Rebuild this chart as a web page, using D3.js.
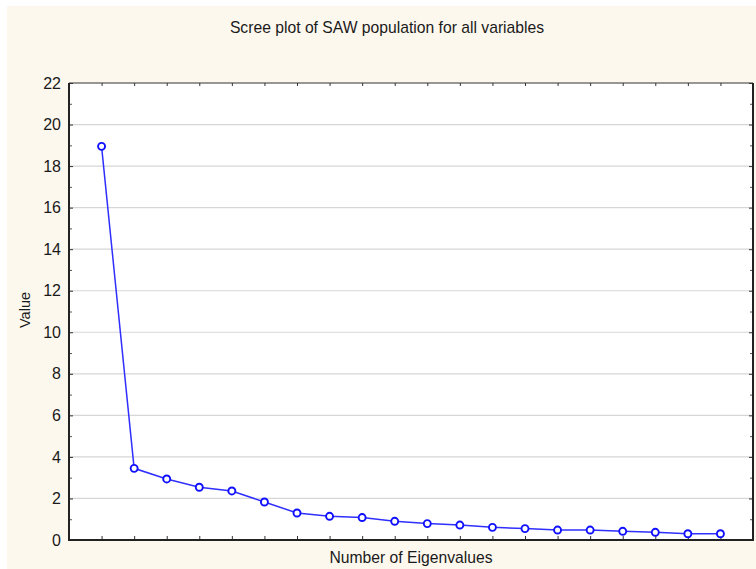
<!DOCTYPE html>
<html>
<head>
<meta charset="utf-8">
<script src="https://cdn.jsdelivr.net/npm/d3@7"></script>
<style>
  html, body { margin: 0; padding: 0; background: #ffffff; }
  svg { display: block; }
  text { font-family: "Liberation Sans", Arial, sans-serif; fill: #1a1a1a; }
</style>
</head>
<body>
<svg id="chart" width="756" height="569"></svg>
<script>
// Eigenvalue index (1..20) and the eigenvalue of each component
const eigenNumbers = [1, 2, 3, 4, 5, 6, 7, 8, 9, 10, 11, 12, 13, 14, 15, 16, 17, 18, 19, 20];
const eigenvalues = [18.95, 3.45, 2.94, 2.54, 2.36, 1.83, 1.30, 1.14, 1.08, 0.90,
                     0.79, 0.72, 0.61, 0.55, 0.48, 0.48, 0.42, 0.37, 0.30, 0.30];
const yMajorTicks = [0, 2, 4, 6, 8, 10, 12, 14, 16, 18, 20, 22];
const yMinorTicks = [1, 3, 5, 7, 9, 11, 13, 15, 17, 19, 21];

const titleText = "Scree plot of SAW population for all variables";
const xLabel = "Number of Eigenvalues";
const yLabel = "Value";

const svg = d3.select("#chart");
const W = 756, H = 569;
const plot = { left: 69, right: 753, top: 83, bottom: 540 };

// cream panel
svg.append("rect").attr("x", 7).attr("y", 6).attr("width", W - 7).attr("height", H - 6)
  .attr("fill", "#fdf8ee");

// plot area
svg.append("rect").attr("x", plot.left).attr("y", plot.top)
  .attr("width", plot.right - plot.left).attr("height", plot.bottom - plot.top)
  .attr("fill", "#ffffff");

const x = d3.scaleLinear().domain([0, 21]).range([plot.left, plot.right]);
const y = d3.scaleLinear().domain([0, 22]).range([plot.bottom, plot.top]);

// horizontal grid
svg.append("g").selectAll("line").data(yMajorTicks.filter(v => v > 0 && v < 22)).join("line")
  .attr("x1", plot.left).attr("x2", plot.right)
  .attr("y1", d => y(d)).attr("y2", d => y(d))
  .attr("stroke", "#d6d6d6").attr("stroke-width", 1.2);

// left axis with labels, inward ticks
const leftAxis = svg.append("g").attr("transform", `translate(${plot.left},0)`)
  .call(d3.axisLeft(y).tickValues(yMajorTicks).tickSize(-4).tickPadding(8).tickFormat(d3.format("d")));
leftAxis.select(".domain").remove();
leftAxis.selectAll("text").attr("font-size", "16px").attr("fill", "#1a1a1a")
  .attr("font-family", "'Liberation Sans', Arial, sans-serif");
leftAxis.selectAll("line").attr("stroke", "#333");

const leftMinor = svg.append("g").attr("transform", `translate(${plot.left},0)`)
  .call(d3.axisLeft(y).tickValues(yMinorTicks).tickSize(-3).tickFormat(""));
leftMinor.select(".domain").remove();
leftMinor.selectAll("line").attr("stroke", "#555");

// right axis ticks
const rightMajor = svg.append("g").attr("transform", `translate(${plot.right},0)`)
  .call(d3.axisRight(y).tickValues(yMajorTicks).tickSize(-4).tickFormat(""));
rightMajor.select(".domain").remove();
rightMajor.selectAll("line").attr("stroke", "#333");
const rightMinor = svg.append("g").attr("transform", `translate(${plot.right},0)`)
  .call(d3.axisRight(y).tickValues(yMinorTicks).tickSize(-3).tickFormat(""));
rightMinor.select(".domain").remove();
rightMinor.selectAll("line").attr("stroke", "#555");

// bottom and top ticks
const bottomAxis = svg.append("g").attr("transform", `translate(0,${plot.bottom})`)
  .call(d3.axisBottom(x).tickValues(eigenNumbers).tickSize(-4).tickFormat(""));
bottomAxis.select(".domain").remove();
bottomAxis.selectAll("line").attr("stroke", "#333");
const topAxis = svg.append("g").attr("transform", `translate(0,${plot.top})`)
  .call(d3.axisTop(x).tickValues(eigenNumbers).tickSize(-3).tickFormat(""));
topAxis.select(".domain").remove();
topAxis.selectAll("line").attr("stroke", "#333");

// frame
svg.append("line").attr("x1", plot.left).attr("x2", plot.right).attr("y1", plot.top).attr("y2", plot.top)
  .attr("stroke", "#333").attr("stroke-width", 1);
svg.append("line").attr("x1", plot.left).attr("x2", plot.left).attr("y1", plot.top).attr("y2", plot.bottom + 1)
  .attr("stroke", "#222").attr("stroke-width", 2);
svg.append("line").attr("x1", plot.left - 1).attr("x2", plot.right + 1).attr("y1", plot.bottom).attr("y2", plot.bottom)
  .attr("stroke", "#222").attr("stroke-width", 2);
svg.append("line").attr("x1", plot.right).attr("x2", plot.right).attr("y1", plot.top).attr("y2", plot.bottom + 1)
  .attr("stroke", "#222").attr("stroke-width", 2);

// scree line
const line = d3.line().x((d, i) => x(eigenNumbers[i])).y(d => y(d));
svg.append("path").datum(eigenvalues).attr("d", line)
  .attr("fill", "none").attr("stroke", "#2f2fff").attr("stroke-width", 1.5);

svg.append("g").selectAll("circle").data(eigenvalues).join("circle")
  .attr("cx", (d, i) => x(eigenNumbers[i])).attr("cy", d => y(d)).attr("r", 3.5)
  .attr("fill", "#ffffff").attr("stroke", "#1010ff").attr("stroke-width", 1.9);

// texts
svg.append("text").attr("x", 387).attr("y", 33).attr("text-anchor", "middle")
  .attr("font-size", "15.7px").text(titleText);
svg.append("text").attr("x", 411).attr("y", 563).attr("text-anchor", "middle")
  .attr("font-size", "15.7px").text(xLabel);
svg.append("text").attr("transform", "translate(30,310) rotate(-90)").attr("text-anchor", "middle")
  .attr("font-size", "14.5px").text(yLabel);
</script>
</body>
</html>
